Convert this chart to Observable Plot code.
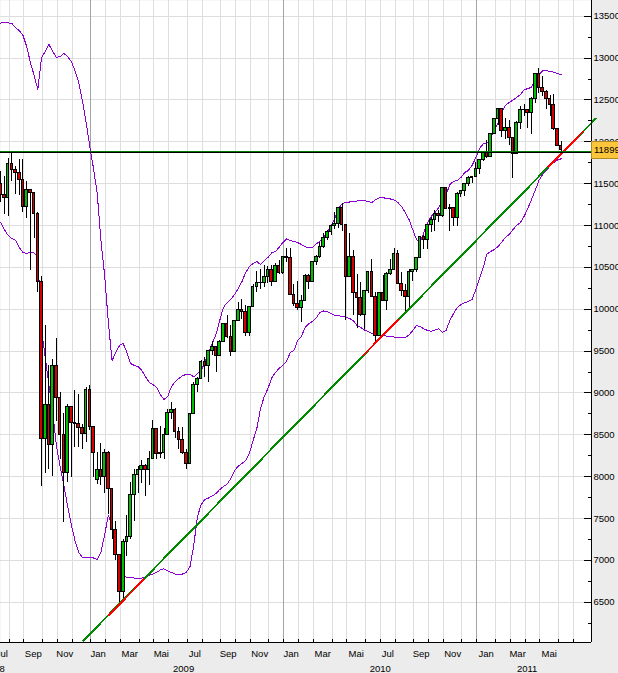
<!DOCTYPE html>
<html><head><meta charset="utf-8">
<script src="https://cdn.jsdelivr.net/npm/d3@7"></script>
<script src="https://cdn.jsdelivr.net/npm/@observablehq/plot@0.6"></script>
<style>html,body{margin:0;padding:0;background:#ececec;}#chart svg{display:block;}</style>
</head><body><div id="chart"></div>
<script>
// ---- data (weekly bars, Monday of each week) ----
const firstWeek = "2008-07-14";
const lastWeek = "2011-06-13";
const open = [11100,11496,11370,11326,11734,11659,11628,11543,11220,11421,11388,11143,10325,8451,8852,8378,9325,8943,8497,8046,8829,8635,8629,8579,8515,
9034,8599,7960,8077,8001,8280,7850,7366,7063,6627,7224,7279,7776,8018,8083,8131,8076,8212,8575,8268,8277,8500,8764,8799,8539,8438,8280,8146,8743,9093,9172,9370,9321,9505,9544,9441,9605,9820,9665,9487,9865,9995,9972,9713,10023,10270,10318,10310,10388,10471,10329,10520,
10428,10618,10609,10173,10067,10012,10099,10402,10325,10567,10625,10742,10851,10927,10997,11019,11204,11009,10380,10620,10193,10137,9932,10212,10450,10144,9686,10198,10097,10425,10466,10654,10303,10213,10150,10448,10463,10607,10861,10830,11006,11062,11133,11118,11444,11192,11204,11092,11382,11410,11492,11573,
11578,11674,11787,11872,11824,12092,12273,12391,12130,12170,12044,11859,12221,12377,12380,12342,12506,12811,12638,12596,12512,12441,12151,11952];
const high = [11530,11640,11590,11800,11870,11700,11790,11790,11530,11430,11390,11160,10390,9800,9330,9400,9650,9000,8760,8860,8830,9030,8980,8620,9060,
9090,8600,8290,8400,8330,8300,7850,7460,7070,7250,7530,7930,8080,8120,8190,8140,8300,8670,8580,8600,8570,8800,8880,8810,8590,8590,8320,8750,9120,9190,9390,9420,9510,9620,9550,9630,9830,9920,9810,9870,10080,10120,10050,10030,10290,10450,10480,10520,10510,10520,10550,10580,
10620,10730,10730,10300,10330,10160,10420,10420,10570,10640,10800,10900,10940,11000,11150,11210,11260,11010,10900,10700,10420,10320,10220,10450,10590,10200,10200,10400,10440,10590,10720,10700,10440,10290,10470,10480,10620,10870,10880,11010,11100,11180,11180,11450,11450,11250,11210,11400,11420,11500,11590,11590,
11750,11790,11890,12020,12100,12280,12400,12400,12280,12250,12050,12240,12420,12450,12390,12530,12820,12880,12780,12610,12550,12570,12160,12000];
const low = [10830,11280,11130,11110,11530,11370,11360,11150,11080,10460,10850,10200,7880,8040,8090,8000,8660,8210,7450,7930,7990,8350,8350,8330,8410,
8550,7990,7910,7900,7800,7550,7250,7000,6470,6500,7050,7250,7460,7800,7920,7760,7900,8200,8200,8220,8200,8490,8680,8450,8330,8270,8090,8140,8740,9000,9170,9190,9130,9450,9250,9440,9600,9650,9430,9480,9850,9880,9680,9680,10020,10200,10230,10260,10310,10270,10320,10420,
10420,10560,10160,10030,9990,9840,10090,10240,10320,10520,10600,10730,10820,10880,10950,10970,10930,9870,10380,9920,9770,9910,9760,10190,10140,9620,9680,10090,9980,10400,10460,10290,10150,9940,9990,10330,10440,10600,10710,10710,10920,10930,11040,11090,11190,10930,10990,10990,11330,11350,11470,11500,
11570,11610,11760,11800,11820,12090,12200,12050,12030,11950,11560,11850,12150,12300,12160,12090,12460,12580,12540,12380,12300,12130,11940,11870];
const close = [11496,11370,11326,11734,11659,11628,11543,11220,11421,11388,11143,10325,8451,8852,8378,9325,8943,8497,8046,8829,8635,8629,8579,8515,9034,
8599,8281,8077,8001,8280,7850,7366,7063,6627,7224,7279,7776,8018,8083,8131,8076,8212,8575,8268,8277,8500,8764,8799,8539,8438,8280,8146,8743,9093,9172,9370,9321,9505,9544,9441,9605,9820,9665,9487,9865,9995,9972,9713,10023,10270,10318,10310,10388,10471,10329,10520,10428,
10618,10609,10173,10067,10012,10099,10402,10325,10567,10625,10742,10851,10927,10997,11019,11204,11009,10380,10620,10193,10137,9932,10212,10450,10144,9686,10198,10097,10425,10466,10654,10303,10213,10150,10448,10463,10607,10861,10830,11006,11062,11133,11118,11444,11192,11204,11092,11382,11410,11492,11573,11578,
11674,11787,11872,11824,12092,12273,12391,12130,12170,12044,11859,12221,12377,12380,12342,12506,12811,12638,12596,12512,12441,12151,11952,11899];
// Bollinger bands, one value per weekly bar
const upperBand = [13413,13417,13429,13422,13413,13362,13330,13270,13138,12947,12792,12625,13007,13079,13162,13079,13007,13019,13055,13019,12959,12852,12708,12493,12231,
11944,11681,11382,10821,10403,9841,9387,9483,9567,9591,9483,9352,9328,9316,9268,9196,9125,9101,9065,8981,8922,8958,9077,9137,9172,9208,9220,9226,9190,9232,9268,9364,9483,9591,9698,9865,10021,10080,10116,10176,10248,10331,10439,10510,10546,10570,10534,10582,10618,10672,10690,10737,
10797,10839,10821,10809,10797,10773,10749,10731,10737,10779,10815,10857,10928,11000,11084,11203,11263,11275,11281,11287,11293,11299,11299,11287,11275,11311,11329,11331,11325,11317,11305,11275,11227,11155,11072,10952,10833,10797,10916,11036,11108,11155,11215,11287,11370,11490,11526,11538,11574,11633,11657,11717,
11812,11920,11974,11980,12051,12135,12231,12362,12434,12470,12499,12529,12565,12619,12637,12649,12744,12804,12846,12852,12840,12832,12816,12804];
const lowerBand = [11072,11036,10952,10881,10845,10821,10737,10678,10666,10684,10672,10630,9746,9423,9089,8766,8372,8121,7894,7655,7428,7237,7094,7034,7034,
7034,7028,7010,7094,7309,7536,7416,7141,6903,6831,6795,6792,6789,6789,6789,6801,6819,6837,6855,6885,6899,6873,6855,6837,6828,6837,6855,6926,7177,7524,7667,7727,7745,7769,7799,7846,7882,7912,7978,8073,8127,8157,8193,8277,8432,8575,8814,8958,9053,9179,9244,9292,
9328,9376,9483,9507,9626,9674,9782,9829,9853,9895,9961,9979,9973,9949,9925,9925,9913,9907,9889,9865,9806,9782,9752,9734,9710,9698,9686,9683,9679,9674,9668,9662,9656,9659,9692,9746,9806,9794,9766,9746,9738,9752,9766,9722,9746,9865,9949,10021,10056,10080,10092,10116,
10236,10367,10499,10660,10690,10713,10749,10803,10857,10893,10952,11000,11036,11108,11203,11311,11418,11538,11609,11657,11711,11753,11783,11797];
const yTicks = [6500,7000,7500,8000,8500,9000,9500,10000,10500,11000,11500,12000,12500,13000,13500];
const yMinorTicks = [6250,6750,7250,7750,8250,8750,9250,9750,10250,10750,11250,11750,12250,12750,13250];
const monthNames = ["Jan","Feb","Mar","Apr","Mai","Jun","Jul","Aug","Sep","Okt","Nov","Dez"];
const yearLabels = ["2008","2009","2010","2011"];
const yearLabelDates = ["2008-07-07","2009-06-29","2010-07-05","2011-04-08"];
const trendLine = [["2008-12-22",6042],["2011-08-15",12275]];
const redSegments = [[["2009-02-08",6346],["2009-04-15",6772]],[["2010-06-03",9450],["2010-08-07",9869]],[["2011-05-18",11702],["2011-07-22",12121]]];
const supportLevel = 11872;
const supportLevel2 = 11885;
const lastPrice = 11899;

// ---- build ----
const day = 864e5;
const xStart = new Date(Date.UTC(2008,6,18,16,30));
const xEnd = new Date(Date.UTC(2011,7,7,7,0));
const plotW = 591, plotH = 642;
const dayPx = plotW / ((xEnd - xStart) / day);
const yMin = 13688 - 11.946 * plotH, yMax = 13688;
const unitPerPx = (yMax - yMin) / plotH;
const pxDays = px => px / dayPx * day;

const weeks = d3.utcMonday.range(new Date(firstWeek), new Date(+new Date(lastWeek) + day));
const bars = weeks.map((d, i) => ({date: d, open: open[i], high: high[i], low: low[i], close: close[i], upper: upperBand[i], lower: lowerBand[i]}));
const allMondays = d3.utcMonday.range(new Date("2008-07-07"), new Date("2011-07-05"));
const monthLines = allMondays.filter(d => d.getUTCDate() <= 7);
const monthLabels = [];
for (let i = 0; i < monthLines.length - 1; i++) {
  const m = monthLines[i].getUTCMonth();
  if (m % 2 === 0) monthLabels.push({date: new Date((+monthLines[i] + +monthLines[i+1]) / 2), text: monthNames[m]});
}
const years = yearLabels.map((t, i) => ({date: new Date(yearLabelDates[i]), text: t}));
const trend = trendLine.map(([d, v]) => ({date: new Date(d), value: v}));
const reds = redSegments.flatMap((s, k) => s.map(([d, v]) => ({seg: k, date: new Date(d), value: v})));

const green = "#00bf00", red = "#d40000", purple = "#8a00d0";
const crisp = "crispEdges";

const chart = Plot.plot({
  width: 618, height: 673,
  marginLeft: 0, marginRight: 618 - plotW, marginTop: 0, marginBottom: 673 - plotH,
  x: {type: "utc", domain: [xStart, xEnd], axis: null},
  y: {domain: [yMin, yMax], axis: null},
  style: {background: "#ececec", fontFamily: "'Liberation Sans', Arial, sans-serif", fontSize: "9.5px", color: "black", overflow: "hidden"},
  marks: [
    Plot.frame({fill: "white", stroke: null}),
    Plot.ruleY(yTicks, {stroke: "#dedede", shapeRendering: crisp}),
    Plot.ruleX(monthLines, {x: d => d, y1: yMin, y2: yMax, stroke: d => d.getUTCMonth() === 0 ? "#a4a4a4" : "#dedede", shapeRendering: crisp}),
    Plot.line(bars, {x: "date", y: "upper", stroke: purple, strokeWidth: 1, dx: -1, shapeRendering: crisp}),
    Plot.line(bars, {x: "date", y: "lower", stroke: purple, strokeWidth: 1, dx: -1, shapeRendering: crisp}),
    Plot.ruleX(bars, {x: "date", y1: "low", y2: "high", stroke: "black", strokeWidth: 1, dx: -1, shapeRendering: crisp}),
    Plot.rect(bars, {
      x1: d => new Date(+d.date - pxDays(1.3)), x2: d => new Date(+d.date + pxDays(1.3)),
      y1: "open", y2: "close",
      fill: d => d.close >= d.open ? green : red, stroke: "black", strokeWidth: 1, dx: -1, shapeRendering: crisp
    }),
    Plot.line(trend, {x: "date", y: "value", stroke: "#008a00", strokeWidth: 2, shapeRendering: crisp}),
    Plot.line(reds, {x: "date", y: "value", z: "seg", stroke: "#ff0000", strokeWidth: 2, shapeRendering: crisp}),
    Plot.ruleY([supportLevel2], {stroke: "#007a00", strokeWidth: 1, x1: xStart, x2: xEnd, shapeRendering: crisp}),
    Plot.ruleY([supportLevel], {stroke: "black", strokeWidth: 1, x1: xStart, x2: xEnd, shapeRendering: crisp}),
    // axes lines
    Plot.ruleX([xEnd], {y1: yMin, y2: yMax, stroke: "black", shapeRendering: crisp}),
    Plot.ruleY([yMin], {x1: xStart, x2: xEnd, stroke: "black", shapeRendering: crisp}),
    // y ticks
    Plot.ruleY(yTicks, {y: d => d, x1: new Date(+xEnd - pxDays(7)), x2: xEnd, stroke: "black", shapeRendering: crisp}),
    Plot.ruleY(yMinorTicks, {y: d => d, x1: new Date(+xEnd - pxDays(3.5)), x2: xEnd, stroke: "black", shapeRendering: crisp}),
    Plot.text(yTicks, {x: xEnd, y: d => d, text: d => String(d), textAnchor: "start", dx: 2, fill: "black"}),
    // x ticks & labels
    Plot.ruleX(monthLines, {x: d => d, y1: yMin, y2: yMin + 3 * unitPerPx, stroke: "black", shapeRendering: crisp}),
    Plot.text(monthLabels, {x: "date", y: yMin, text: "text", dy: 11.5, fill: "black"}),
    Plot.text(years, {x: "date", y: yMin, text: "text", dy: 26.5, fill: "black"}),
    // last price label
    Plot.rect([lastPrice], {x1: xEnd, x2: new Date(+xEnd + pxDays(40)), y1: d => d - 8.3 * unitPerPx, y2: d => d + 8.3 * unitPerPx, fill: "#fcc63c", stroke: "#b08a20", strokeWidth: 1, shapeRendering: crisp}),
    Plot.text([lastPrice], {x: xEnd, y: d => d, text: d => String(d), textAnchor: "start", dx: 2.5, fill: "black"})
  ]
});
document.getElementById("chart").appendChild(chart);
</script>
</body></html>
